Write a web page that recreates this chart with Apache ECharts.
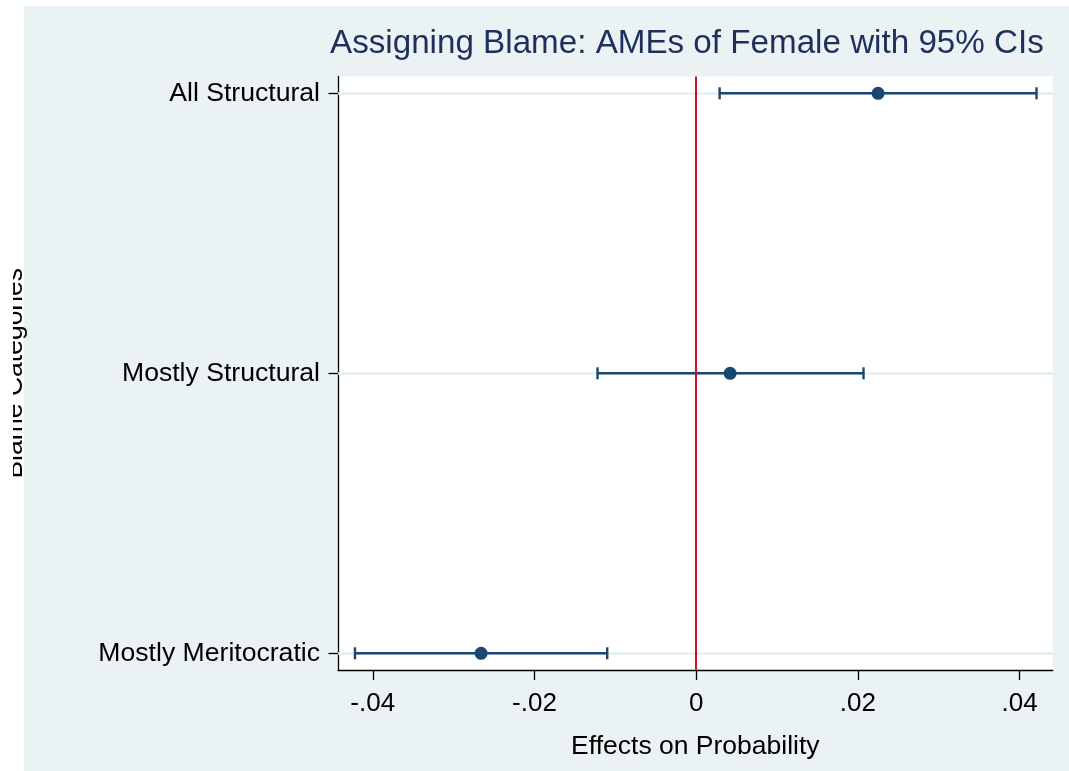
<!DOCTYPE html>
<html><head><meta charset="utf-8">
<script src="https://cdn.jsdelivr.net/npm/echarts@6/dist/echarts.min.js"></script>
<style>
html,body{margin:0;padding:0;background:#ffffff;overflow:hidden;width:1069px;height:771px}
#c{position:absolute;left:13px;top:0;width:1056px;height:771px}
</style>
</head><body><div id="c"></div>
<script>
// ---- data ----
const categories = ['Mostly Meritocratic', 'Mostly Structural', 'All Structural'];
const categoryPos = [1, 2, 3];
const ame = [-0.0266, 0.0042, 0.0225];
const ciLow = [-0.0422, -0.0122, 0.0029];
const ciHigh = [-0.0110, 0.0207, 0.0421];
const xTickValues = [-0.04, -0.02, 0, 0.02, 0.04];
const xTickLabels = ['-.04', '-.02', '0', '.02', '.04'];
const titleText = 'Assigning Blame: AMEs of Female with 95% CIs';
const xTitle = 'Effects on Probability';
const yTitle = 'Blame Categories';

// ---- styles ----
const FONT = "'Liberation Sans', Arial, Helvetica, sans-serif";
const NAVY = '#1a476f';
const BG = '#eaf2f3';
const GRIDC = '#e4eef0';

const chart = echarts.init(document.getElementById('c'), null, {renderer: 'canvas'});

const ciData = categoryPos.map((p, i) => [p, ciLow[i], ciHigh[i]]);
const ptData = categoryPos.map((p, i) => [ame[i], p]);

function labelFor(v, values, labels) {
  for (let i = 0; i < values.length; i++) if (Math.abs(values[i] - v) < 1e-9) return labels[i];
  return '';
}

const option = {
  backgroundColor: 'transparent',
  animation: false,
  graphic: [{
    type: 'rect', z: -100, silent: true,
    shape: {x: 11, y: 6, width: 1100, height: 800},
    style: {fill: BG}
  }],
  title: {
    text: titleText,
    left: 317, top: 27,
    padding: 0,
    textStyle: {fontFamily: FONT, fontSize: 33.2, fontWeight: 'normal', color: '#1e2f5c', lineHeight: 33}
  },
  grid: {
    left: 325, right: 16.3, top: 76.5, bottom: 101,
    containLabel: false, outerBoundsMode: 'none',
    show: true, backgroundColor: '#ffffff', borderWidth: 0
  },
  xAxis: {
    type: 'value', min: -0.0443, max: 0.0441,
    name: xTitle, nameLocation: 'middle', nameGap: 64,
    nameTextStyle: {fontFamily: FONT, fontSize: 26.5, color: '#000', lineHeight: 26},
    axisLine: {show: true, onZero: false, lineStyle: {color: '#000', width: 1.3}},
    axisTick: {show: true, length: 10, customValues: xTickValues, lineStyle: {color: '#000', width: 1.3}},
    axisLabel: {
      show: true, margin: 21, customValues: xTickValues,
      fontFamily: FONT, fontSize: 26, color: '#000', lineHeight: 26,
      formatter: v => labelFor(v, xTickValues, xTickLabels)
    },
    splitLine: {show: false}
  },
  yAxis: {
    type: 'value', min: 0.9404, max: 3.06,
    name: yTitle, nameLocation: 'middle', nameGap: 310.7,
    nameTextStyle: {fontFamily: FONT, fontSize: 26.5, color: '#000', lineHeight: 26},
    axisLine: {show: true, onZero: false, lineStyle: {color: '#000', width: 1.3}},
    axisTick: {show: true, length: 9.5, customValues: categoryPos, lineStyle: {color: '#000', width: 1.3}},
    axisLabel: {
      show: true, margin: 18, customValues: categoryPos,
      fontFamily: FONT, fontSize: 26.6, color: '#000', lineHeight: 26,
      padding: [6, 0, 0, 0],
      formatter: v => labelFor(v, categoryPos, categories)
    },
    splitLine: {show: false}
  },
  series: [
    {
      // horizontal gridlines at each category
      type: 'line', data: [], z: 1, silent: true,
      markLine: {
        z: 1, silent: true, symbol: ['none', 'none'], label: {show: false},
        lineStyle: {color: GRIDC, width: 2.5, type: 'solid'},
        data: categoryPos.map(p => ({yAxis: p}))
      }
    },
    {
      type: 'custom', z: 3, silent: true,
      data: ciData,
      encode: {x: [1, 2], y: 0},
      renderItem: function (params, api) {
        const y = api.value(0);
        const a = api.coord([api.value(1), y]);
        const b = api.coord([api.value(2), y]);
        const h = 6;
        const st = {stroke: NAVY, lineWidth: 2.4};
        return {
          type: 'group',
          children: [
            {type: 'line', shape: {x1: a[0], y1: a[1], x2: b[0], y2: b[1]}, style: st},
            {type: 'line', shape: {x1: a[0], y1: a[1] - h, x2: a[0], y2: a[1] + h}, style: st},
            {type: 'line', shape: {x1: b[0], y1: b[1] - h, x2: b[0], y2: b[1] + h}, style: st}
          ]
        };
      }
    },
    {
      // vertical reference line at zero
      type: 'line', data: [], z: 4, silent: true,
      markLine: {
        z: 4, silent: true, symbol: ['none', 'none'], label: {show: false},
        lineStyle: {color: '#c8102e', width: 2, type: 'solid'},
        data: [{xAxis: 0}]
      }
    },
    {
      type: 'scatter', z: 5, silent: true,
      data: ptData,
      symbol: 'circle', symbolSize: 13,
      itemStyle: {color: NAVY, opacity: 1}
    }
  ]
};
chart.setOption(option);
</script>
</body></html>
